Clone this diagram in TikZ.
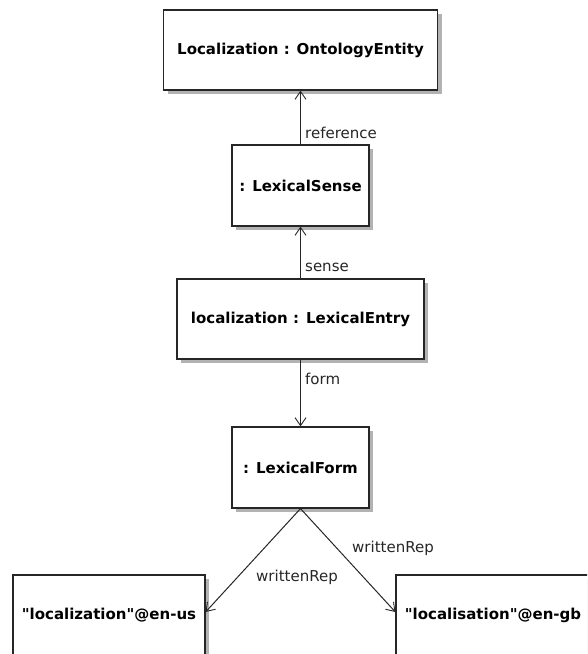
\documentclass[tikz,border=0pt]{standalone}
\usepackage{fontspec}
\setmainfont{DejaVu Sans}[Ligatures=TeXOff]
\usetikzlibrary{arrows.meta,shadows}
\begin{document}
\begin{tikzpicture}[x=1pt,y=-1pt,
  obj/.style={draw=black!85, line width=1.2pt, fill=white, rectangle, inner sep=0pt,
    font=\fontsize{15}{18}\selectfont\bfseries,
    drop shadow={shadow xshift=4pt, shadow yshift=-4pt, fill=black!30, opacity=1}},
  link/.style={draw=black!85, line width=1pt, -{Straight Barb[length=8pt,width=11pt,line width=0.9pt]}},
  lbl/.style={anchor=west, inner sep=0pt, font=\fontsize{15}{18}\selectfont, text=black!85}]
\useasboundingbox (0,0) rectangle (587,654);
\clip (0,0) rectangle (587,654);
\node[obj, minimum width=274pt, minimum height=80pt] (b1) at (300.5,50) {Localization : OntologyEntity};
\node[obj, minimum width=137pt, minimum height=81pt] (b2) at (300.5,185.5) {: LexicalSense};
\node[obj, minimum width=247pt, minimum height=80pt] (b3) at (300.5,319) {localization : LexicalEntry};
\node[obj, minimum width=137pt, minimum height=81pt] (b4) at (300.5,467.5) {: LexicalForm};
\node[obj, minimum width=192pt, minimum height=81pt] (b5) at (109,615.5) {"localization"@en-us};
\node[obj, minimum width=194pt, minimum height=81pt] (b6) at (493,615.5) {"localisation"@en-gb};
\draw[link] (b2.north) -- (b1.south);
\draw[link] (b3.north) -- (b2.south);
\draw[link] (b3.south) -- (b4.north);
\coordinate (t5) at ([yshift=3.5pt]b5.east);
\coordinate (t6) at ([yshift=3.5pt]b6.west);
\draw[link] (b4.south) -- (t5);
\draw[link] (b4.south) -- (t6);
\node[lbl] (l1) at (305,133) {reference};
\node[lbl] (l2) at (305,267) {sense};
\node[lbl] (l3) at (305,379) {form};
\node[lbl] (l4) at (352,548) {writtenRep};
\node[lbl] (l5) at (256,577) {writtenRep};
\end{tikzpicture}
\end{document}
